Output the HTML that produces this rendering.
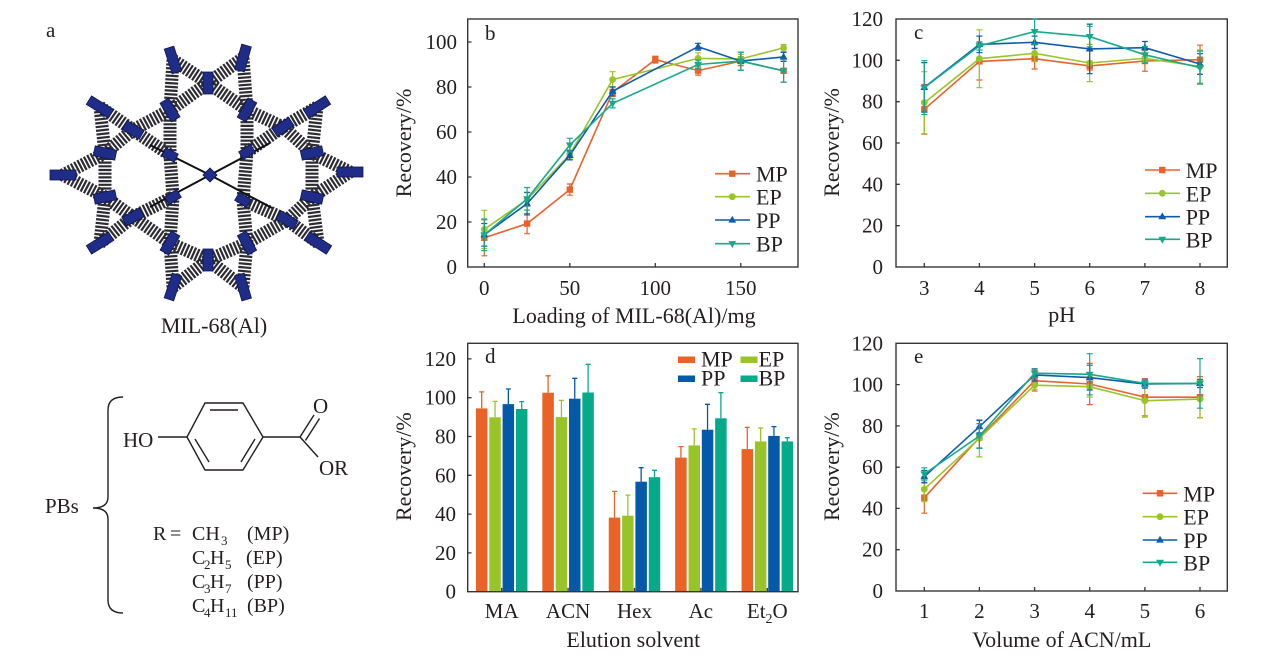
<!DOCTYPE html>
<html>
<head>
<meta charset="utf-8">
<style>
html,body{margin:0;padding:0;background:#fff;}
svg{display:block;}
text{font-family:"Liberation Serif",serif;fill:#231f20;}
</style>
</head>
<body>
<svg width="1269" height="665" viewBox="0 0 1269 665" xmlns="http://www.w3.org/2000/svg">
<defs>
<rect id="ms" x="-3.2" y="-3.2" width="6.4" height="6.4"/>
<circle id="mc" r="3.4"/>
<path id="mu" d="M0,-4.3L3.9,2.6H-3.9Z"/>
<path id="md" d="M0,4.3L3.9,-2.6H-3.9Z"/>
</defs>

<!-- ============ Panel a ============ -->
<text x="46" y="37" font-size="21">a</text>
<g>
<path fill="none" stroke="#15151c" stroke-width="13" stroke-dasharray="2.2 1.5" opacity="0.9"
d="M208,83L247,110M247,110L247,152M170,155L170,110M170,110L208,83
M243,200L247,243M247,243L208,260M208,260L170,243M170,243L173,197
M170,155L173,197M173,197L133,217M133,217L105,197M105,197L105,153M105,153L133,130M133,130L170,155
M247,152L243,200M243,200L287,220M287,220L312,197M312,197L312,153M312,153L283,127M283,127L247,152
M173,60L170,110M173,60L208,83M243,58L208,83M243,58L247,110M170,110L133,130M247,110L283,127
M100,107L133,130M100,107L105,153M63,175L105,153M63,175L105,197M100,243L105,197M100,243L133,217
M173,287L170,243M173,287L208,260M243,287L208,260M243,287L247,243M170,243L133,217M247,243L287,220
M317,107L283,127M317,107L312,153M350,172L312,153M350,172L312,197M318,243L312,197M318,243L287,220"/>
<path fill="none" stroke="#111" stroke-width="2" d="M210,175L150,145M210,175L270,143M210,175L150,207M210,175L272,208"/>
<g fill="#1f2d88" stroke="#0f174e" stroke-width="0.8">
<rect transform="translate(173 60) rotate(-107.8)" x="-13" y="-5" width="26" height="10"/>
<rect transform="translate(243 58) rotate(-74.2)" x="-13" y="-5" width="26" height="10"/>
<rect transform="translate(100 107) rotate(-148.3)" x="-13" y="-5" width="26" height="10"/>
<rect transform="translate(63 175) rotate(180)" x="-13" y="-5" width="26" height="10"/>
<rect transform="translate(100 243) rotate(148.3)" x="-13" y="-5" width="26" height="10"/>
<rect transform="translate(173 287) rotate(108.3)" x="-13" y="-5" width="26" height="10"/>
<rect transform="translate(243 287) rotate(73.6)" x="-13" y="-5" width="26" height="10"/>
<rect transform="translate(317 107) rotate(-32.4)" x="-13" y="-5" width="26" height="10"/>
<rect transform="translate(350 172) rotate(0)" x="-13" y="-5" width="26" height="10"/>
<rect transform="translate(318 243) rotate(32.2)" x="-13" y="-5" width="26" height="10"/>
<rect transform="translate(208 83) rotate(-90)" x="-11" y="-5" width="22" height="10"/>
<rect transform="translate(208 260) rotate(90)" x="-11" y="-5" width="22" height="10"/>
<rect transform="translate(105 153) rotate(-168.2)" x="-11" y="-5" width="22" height="10"/>
<rect transform="translate(105 197) rotate(168.2)" x="-11" y="-5" width="22" height="10"/>
<rect transform="translate(312 153) rotate(-12.2)" x="-11" y="-5" width="22" height="10"/>
<rect transform="translate(312 197) rotate(12.2)" x="-11" y="-5" width="22" height="10"/>
<rect transform="translate(170 110) rotate(-121.6)" x="-11" y="-5" width="22" height="10"/>
<rect transform="translate(247 110) rotate(-60.4)" x="-11" y="-5" width="22" height="10"/>
<rect transform="translate(170 243) rotate(120.5)" x="-11" y="-5" width="22" height="10"/>
<rect transform="translate(247 243) rotate(61.4)" x="-11" y="-5" width="22" height="10"/>
<rect transform="translate(133 130) rotate(-149.7)" x="-10" y="-5" width="20" height="10"/>
<rect transform="translate(283 127) rotate(-33.3)" x="-10" y="-5" width="20" height="10"/>
<rect transform="translate(133 217) rotate(151.4)" x="-10" y="-5" width="20" height="10"/>
<rect transform="translate(287 220) rotate(30.3)" x="-10" y="-5" width="20" height="10"/>
<rect transform="translate(170 155) rotate(-153.4)" x="-7" y="-4.5" width="14" height="9"/>
<rect transform="translate(247 152) rotate(-31.9)" x="-7" y="-4.5" width="14" height="9"/>
<rect transform="translate(173 197) rotate(149.3)" x="-7" y="-4.5" width="14" height="9"/>
<rect transform="translate(243 200) rotate(31.1)" x="-7" y="-4.5" width="14" height="9"/>
<rect transform="translate(210 175) rotate(45)" x="-5" y="-5" width="10" height="10"/>
</g>
</g>
<text x="214" y="333" font-size="22" text-anchor="middle">MIL-68(Al)</text>

<!-- chemical structure -->
<g fill="none" stroke="#231f20" stroke-width="1.4">
<path d="M123,397Q108,397 108,410L108,497Q108,508 93,508Q108,508 108,519L108,600Q108,613 123,613"/>
<path d="M205,403L243,403L263,437L243,470L205,470L187,437Z"/>
<path d="M210,410L238,410M255,439L241,462M195,439L209,462"/>
<path d="M158,437L187,437M263,437L300,437L318,457"/>
<path d="M300,437L314,415M305.5,440.5L319.5,418.5"/>
</g>
<text x="123" y="447" font-size="21">HO</text>
<text x="313" y="413" font-size="21">O</text>
<text x="319" y="475" font-size="21">OR</text>
<text x="45" y="513" font-size="21">PBs</text>
<g font-size="20">
<text x="153" y="540">R</text><text x="170" y="540">=</text><text x="192" y="540">CH</text><text x="221" y="545" font-size="13">3</text><text x="247" y="540">(MP)</text>
<text x="192" y="564">C</text><text x="204" y="569" font-size="13">2</text><text x="210" y="564">H</text><text x="225" y="569" font-size="13">5</text><text x="246" y="564">(EP)</text>
<text x="192" y="588">C</text><text x="204" y="593" font-size="13">3</text><text x="210" y="588">H</text><text x="225" y="593" font-size="13">7</text><text x="247" y="588">(PP)</text>
<text x="192" y="612">C</text><text x="204" y="617" font-size="13">4</text><text x="210" y="612">H</text><text x="225" y="617" font-size="13">11</text><text x="247" y="612">(BP)</text>
</g>

<!-- ============ Panel b ============ -->
<rect x="467.7" y="19" width="330.3" height="248" fill="none" stroke="#3a3535" stroke-width="1.4"/>
<path stroke="#3a3535" stroke-width="1.3" d="M484.3,267V263M569.8,267V263M655.3,267V263M740.8,267V263M467.7,222H471.5M467.7,177H471.5M467.7,132H471.5M467.7,87H471.5M467.7,42H471.5"/>
<g font-size="21" text-anchor="end">
<text x="457" y="274">0</text><text x="457" y="229">20</text><text x="457" y="184">40</text><text x="457" y="139">60</text><text x="457" y="94">80</text><text x="457" y="49">100</text>
</g>
<g font-size="21" text-anchor="middle">
<text x="484.3" y="295">0</text><text x="569.8" y="295">50</text><text x="655.3" y="295">100</text><text x="740.8" y="295">150</text>
</g>
<text x="634" y="323" font-size="22" text-anchor="middle">Loading of MIL-68(Al)/mg</text>
<text transform="translate(411 143) rotate(-90)" font-size="22" text-anchor="middle">Recovery/%</text>
<text x="485" y="40" font-size="21">b</text>
<!-- MP -->
<g stroke="#E8622B" fill="none">
<polyline stroke-width="1.6" points="484.3,237.8 527.1,223.6 569.8,189.6 612.6,92.2 655.3,59.6 698.1,70.6 740.8,61.1 783.6,70.8"/>
<path stroke-width="1.2" d="M484.3,219.8V255.8M481.3,219.8h6M481.3,255.8h6M527.1,213.5V233.7M524.1,213.5h6M524.1,233.7h6M569.8,184V195.2M566.8,184h6M566.8,195.2h6M612.6,87.7V96.7M609.6,87.7h6M609.6,96.7h6M655.3,56.2V63M652.3,56.2h6M652.3,63h6M698.1,66.1V75.1M695.1,66.1h6M695.1,75.1h6M740.8,56.6V65.6M737.8,56.6h6M737.8,65.6h6M783.6,59.5V82.1M780.6,59.5h6M780.6,82.1h6"/>
</g>
<g fill="#E8622B"><use href="#ms" x="484.3" y="237.8"/><use href="#ms" x="527.1" y="223.6"/><use href="#ms" x="569.8" y="189.6"/><use href="#ms" x="612.6" y="92.2"/><use href="#ms" x="655.3" y="59.6"/><use href="#ms" x="698.1" y="70.6"/><use href="#ms" x="740.8" y="61.1"/><use href="#ms" x="783.6" y="70.8"/></g>
<!-- EP -->
<g stroke="#9AC42A" fill="none">
<polyline stroke-width="1.6" points="484.3,229.4 527.1,199.5 569.8,154.5 612.6,79.6 698.1,58.4 740.8,58.9 783.6,47.9"/>
<path stroke-width="1.2" d="M484.3,210.3V248.5M481.3,210.3h6M481.3,248.5h6M527.1,192.7V206.3M524.1,192.7h6M524.1,206.3h6M569.8,150V159M566.8,150h6M566.8,159h6M612.6,71.7V87.5M609.6,71.7h6M609.6,87.5h6M698.1,52.8V64M695.1,52.8h6M695.1,64h6M740.8,54.4V63.4M737.8,54.4h6M737.8,63.4h6M783.6,44.5V51.3M780.6,44.5h6M780.6,51.3h6"/>
</g>
<g fill="#9AC42A"><use href="#mc" x="484.3" y="229.4"/><use href="#mc" x="527.1" y="199.5"/><use href="#mc" x="569.8" y="154.5"/><use href="#mc" x="612.6" y="79.6"/><use href="#mc" x="698.1" y="58.4"/><use href="#mc" x="740.8" y="58.9"/><use href="#mc" x="783.6" y="47.9"/></g>
<!-- PP -->
<g stroke="#0F5CAB" fill="none">
<polyline stroke-width="1.6" points="484.3,234.8 527.1,203.6 569.8,155.4 612.6,91.3 698.1,46.7 740.8,61.1 783.6,56.9"/>
<path stroke-width="1.2" d="M484.3,223.5V246.1M481.3,223.5h6M481.3,246.1h6M527.1,192.3V214.9M524.1,192.3h6M524.1,214.9h6M569.8,150.9V159.9M566.8,150.9h6M566.8,159.9h6M612.6,86.8V95.8M609.6,86.8h6M609.6,95.8h6M698.1,43.3V50.1M695.1,43.3h6M695.1,50.1h6M740.8,52.1V70.1M737.8,52.1h6M737.8,70.1h6M783.6,52.4V61.4M780.6,52.4h6M780.6,61.4h6"/>
</g>
<g fill="#0F5CAB"><use href="#mu" x="484.3" y="234.8"/><use href="#mu" x="527.1" y="203.6"/><use href="#mu" x="569.8" y="155.4"/><use href="#mu" x="612.6" y="91.3"/><use href="#mu" x="698.1" y="46.7"/><use href="#mu" x="740.8" y="61.1"/><use href="#mu" x="783.6" y="56.9"/></g>
<!-- BP -->
<g stroke="#16A98B" fill="none">
<polyline stroke-width="1.6" points="484.3,234.8 527.1,198.8 569.8,145.1 612.6,103.4 698.1,64.5 740.8,61.1 783.6,70.8"/>
<path stroke-width="1.2" d="M484.3,219V250.6M481.3,219h6M481.3,250.6h6M527.1,187.5V210.1M524.1,187.5h6M524.1,210.1h6M569.8,138.3V151.9M566.8,138.3h6M566.8,151.9h6M612.6,98.9V107.9M609.6,98.9h6M609.6,107.9h6M698.1,60V69M695.1,60h6M695.1,69h6M740.8,52.1V70.1M737.8,52.1h6M737.8,70.1h6M783.6,59.5V82.1M780.6,59.5h6M780.6,82.1h6"/>
</g>
<g fill="#16A98B"><use href="#md" x="484.3" y="234.8"/><use href="#md" x="527.1" y="198.8"/><use href="#md" x="569.8" y="145.1"/><use href="#md" x="612.6" y="103.4"/><use href="#md" x="698.1" y="64.5"/><use href="#md" x="740.8" y="61.1"/><use href="#md" x="783.6" y="70.8"/></g>
<!-- legend b -->
<g stroke-width="1.6">
<line x1="715" y1="173.7" x2="750" y2="173.7" stroke="#E8622B"/>
<line x1="715" y1="196.7" x2="750" y2="196.7" stroke="#9AC42A"/>
<line x1="715" y1="220" x2="750" y2="220" stroke="#0F5CAB"/>
<line x1="715" y1="243.7" x2="750" y2="243.7" stroke="#16A98B"/>
</g>
<use href="#ms" x="732.3" y="173.7" fill="#E8622B"/><use href="#mc" x="732.3" y="196.7" fill="#9AC42A"/><use href="#mu" x="732.3" y="220" fill="#0F5CAB"/><use href="#md" x="732.3" y="243.7" fill="#16A98B"/>
<g font-size="22"><text x="756" y="181.7">MP</text><text x="756" y="204.7">EP</text><text x="756" y="228">PP</text><text x="756" y="251.7">BP</text></g>

<!-- ============ Panel c ============ -->
<rect x="896" y="19" width="331.3" height="248" fill="none" stroke="#3a3535" stroke-width="1.4"/>
<path stroke="#3a3535" stroke-width="1.3" d="M924.3,267V263M979.4,267V263M1034.6,267V263M1089.7,267V263M1144.9,267V263M1200,267V263M896,225.7H899.8M896,184.3H899.8M896,143H899.8M896,101.7H899.8M896,60.3H899.8"/>
<g font-size="21" text-anchor="end">
<text x="883" y="274">0</text><text x="883" y="232.7">20</text><text x="883" y="191.3">40</text><text x="883" y="150">60</text><text x="883" y="108.7">80</text><text x="883" y="67.3">100</text><text x="883" y="26">120</text>
</g>
<g font-size="21" text-anchor="middle">
<text x="924.3" y="295">3</text><text x="979.4" y="295">4</text><text x="1034.6" y="295">5</text><text x="1089.7" y="295">6</text><text x="1144.9" y="295">7</text><text x="1200" y="295">8</text>
</g>
<text x="1061.7" y="322" font-size="22" text-anchor="middle">pH</text>
<text transform="translate(839 142.5) rotate(-90)" font-size="22" text-anchor="middle">Recovery/%</text>
<text x="914" y="39" font-size="21">c</text>
<g stroke="#E8622B" fill="none">
<polyline stroke-width="1.6" points="924.3,109.3 979.4,61.4 1034.6,58.7 1089.7,65.9 1144.9,61 1200,59.7"/>
<path stroke-width="1.2" d="M924.3,84.5V134.1M921.3,84.5h6M921.3,134.1h6M979.4,42.8V80M976.4,42.8h6M976.4,80h6M1034.6,48.4V69M1031.6,48.4h6M1031.6,69h6M1089.7,61.8V70M1086.7,61.8h6M1086.7,70h6M1144.9,50.7V71.3M1141.9,50.7h6M1141.9,71.3h6M1200,45.2V74.2M1197,45.2h6M1197,74.2h6"/>
</g>
<g fill="#E8622B"><use href="#ms" x="924.3" y="109.3"/><use href="#ms" x="979.4" y="61.4"/><use href="#ms" x="1034.6" y="58.7"/><use href="#ms" x="1089.7" y="65.9"/><use href="#ms" x="1144.9" y="61"/><use href="#ms" x="1200" y="59.7"/></g>
<g stroke="#9AC42A" fill="none">
<polyline stroke-width="1.6" points="924.3,102.7 979.4,58.7 1034.6,53.3 1089.7,63 1144.9,58.3 1200,66.5"/>
<path stroke-width="1.2" d="M924.3,71.7V133.7M921.3,71.7h6M921.3,133.7h6M979.4,29.8V87.6M976.4,29.8h6M976.4,87.6h6M1034.6,45V61.6M1031.6,45h6M1031.6,61.6h6M1089.7,44.4V81.6M1086.7,44.4h6M1086.7,81.6h6M1144.9,54.2V62.4M1141.9,54.2h6M1141.9,62.4h6M1200,50V83M1197,50h6M1197,83h6"/>
</g>
<g fill="#9AC42A"><use href="#mc" x="924.3" y="102.7"/><use href="#mc" x="979.4" y="58.7"/><use href="#mc" x="1034.6" y="53.3"/><use href="#mc" x="1089.7" y="63"/><use href="#mc" x="1144.9" y="58.3"/><use href="#mc" x="1200" y="66.5"/></g>
<g stroke="#0F5CAB" fill="none">
<polyline stroke-width="1.6" points="924.3,87.4 979.4,44.4 1034.6,42.3 1089.7,48.9 1144.9,47.7 1200,64"/>
<path stroke-width="1.2" d="M924.3,62.6V112.2M921.3,62.6h6M921.3,112.2h6M979.4,36.1V52.7M976.4,36.1h6M976.4,52.7h6M1034.6,36.1V48.5M1031.6,36.1h6M1031.6,48.5h6M1089.7,24.1V73.7M1086.7,24.1h6M1086.7,73.7h6M1144.9,41.5V53.9M1141.9,41.5h6M1141.9,53.9h6M1200,53.7V74.3M1197,53.7h6M1197,74.3h6"/>
</g>
<g fill="#0F5CAB"><use href="#mu" x="924.3" y="87.4"/><use href="#mu" x="979.4" y="44.4"/><use href="#mu" x="1034.6" y="42.3"/><use href="#mu" x="1089.7" y="48.9"/><use href="#mu" x="1144.9" y="47.7"/><use href="#mu" x="1200" y="64"/></g>
<g stroke="#16A98B" fill="none">
<polyline stroke-width="1.6" points="924.3,87.6 979.4,45.9 1034.6,31.6 1089.7,36.6 1144.9,54.8 1200,67.6"/>
<path stroke-width="1.2" d="M924.3,60.7V114.5M921.3,60.7h6M921.3,114.5h6M979.4,41.8V50M976.4,41.8h6M976.4,50h6M1034.6,19.2V44M1031.6,19.2h6M1031.6,44h6M1089.7,26.3V46.9M1086.7,26.3h6M1086.7,46.9h6M1144.9,46.5V63.1M1141.9,46.5h6M1141.9,63.1h6M1200,51.1V84.1M1197,51.1h6M1197,84.1h6"/>
</g>
<g fill="#16A98B"><use href="#md" x="924.3" y="87.6"/><use href="#md" x="979.4" y="45.9"/><use href="#md" x="1034.6" y="31.6"/><use href="#md" x="1089.7" y="36.6"/><use href="#md" x="1144.9" y="54.8"/><use href="#md" x="1200" y="67.6"/></g>
<g stroke-width="1.6">
<line x1="1145" y1="170" x2="1180" y2="170" stroke="#E8622B"/>
<line x1="1145" y1="193.3" x2="1180" y2="193.3" stroke="#9AC42A"/>
<line x1="1145" y1="216.7" x2="1180" y2="216.7" stroke="#0F5CAB"/>
<line x1="1145" y1="239.3" x2="1180" y2="239.3" stroke="#16A98B"/>
</g>
<use href="#ms" x="1162.3" y="170" fill="#E8622B"/><use href="#mc" x="1162.3" y="193.3" fill="#9AC42A"/><use href="#mu" x="1162.3" y="216.7" fill="#0F5CAB"/><use href="#md" x="1162.3" y="239.3" fill="#16A98B"/>
<g font-size="22"><text x="1185.7" y="178">MP</text><text x="1185.7" y="201.3">EP</text><text x="1185.7" y="224.7">PP</text><text x="1185.7" y="247.3">BP</text></g>

<!-- ============ Panel d ============ -->
<g fill="#EA6226">
<rect x="475.95" y="408.4" width="11.5" height="183.3"/><rect x="542.35" y="392.7" width="11.5" height="199"/><rect x="608.75" y="517.6" width="11.5" height="74.1"/><rect x="675.15" y="457.6" width="11.5" height="134.1"/><rect x="741.55" y="449.1" width="11.5" height="142.6"/>
</g>
<g fill="#98C428">
<rect x="489.3" y="417.3" width="11.5" height="174.4"/><rect x="555.7" y="417.1" width="11.5" height="174.6"/><rect x="622.1" y="515.7" width="11.5" height="76"/><rect x="688.5" y="445.4" width="11.5" height="146.3"/><rect x="754.9" y="441.4" width="11.5" height="150.3"/>
</g>
<g fill="#0559A9">
<rect x="502.6" y="404.1" width="11.5" height="187.6"/><rect x="569" y="398.7" width="11.5" height="193"/><rect x="635.4" y="481.7" width="11.5" height="110"/><rect x="701.8" y="429.7" width="11.5" height="162"/><rect x="768.2" y="435.9" width="11.5" height="155.8"/>
</g>
<g fill="#05AB89">
<rect x="515.95" y="409" width="11.5" height="182.7"/><rect x="582.35" y="392.5" width="11.5" height="199.2"/><rect x="648.75" y="477.2" width="11.5" height="114.5"/><rect x="715.15" y="418.3" width="11.5" height="173.4"/><rect x="781.55" y="441.4" width="11.5" height="150.3"/>
</g>
<g stroke-width="1.3" fill="none">
<path stroke="#EA6226" d="M481.7,408.4V391.9M479.2,391.9h5M548.1,392.7V375.8M545.6,375.8h5M614.5,517.6V491.4M612,491.4h5M680.9,457.6V446.6M678.4,446.6h5M747.3,449.1V427.4M744.8,427.4h5"/>
<path stroke="#98C428" d="M495.05,417.3V401.4M492.55,401.4h5M561.45,417.1V400.4M558.95,400.4h5M627.85,515.7V495.1M625.35,495.1h5M694.25,445.4V428.9M691.75,428.9h5M760.65,441.4V428M758.15,428h5"/>
<path stroke="#0559A9" d="M508.35,404.1V389M505.85,389h5M574.75,398.7V378.3M572.25,378.3h5M641.15,481.7V467.7M638.65,467.7h5M707.55,429.7V404.3M705.05,404.3h5M773.95,435.9V426.6M771.45,426.6h5"/>
<path stroke="#05AB89" d="M521.7,409V401.6M519.2,401.6h5M588.1,392.5V364.3M585.6,364.3h5M654.5,477.2V470.3M652,470.3h5M720.9,418.3V392.7M718.4,392.7h5M787.3,441.4V437.7M784.8,437.7h5"/>
</g>
<rect x="467.7" y="343.3" width="330.3" height="248.4" fill="none" stroke="#3a3535" stroke-width="1.4"/>
<path stroke="#3a3535" stroke-width="1.3" d="M501.7,591.7V587.9M568.1,591.7V587.9M634.5,591.7V587.9M700.9,591.7V587.9M767.3,591.7V587.9M467.7,552.9H471.5M467.7,514.1H471.5M467.7,475.3H471.5M467.7,436.5H471.5M467.7,397.7H471.5M467.7,358.9H471.5"/>
<g font-size="21" text-anchor="end">
<text x="456" y="598.7">0</text><text x="456" y="559.9">20</text><text x="456" y="521.1">40</text><text x="456" y="482.3">60</text><text x="456" y="443.5">80</text><text x="456" y="404.7">100</text><text x="456" y="365.9">120</text>
</g>
<g font-size="21" text-anchor="middle">
<text x="501.7" y="618">MA</text><text x="568.1" y="618">ACN</text><text x="634.5" y="618">Hex</text><text x="700.9" y="618">Ac</text><text x="767.3" y="618">Et<tspan font-size="14" dy="5">2</tspan><tspan dy="-5">O</tspan></text>
</g>
<text x="633.3" y="647" font-size="22" text-anchor="middle">Elution solvent</text>
<text transform="translate(411 466.7) rotate(-90)" font-size="22" text-anchor="middle">Recovery/%</text>
<text x="485" y="363" font-size="21">d</text>
<rect x="678" y="356.5" width="17" height="6.5" fill="#EA6226"/>
<rect x="740.5" y="356.5" width="17" height="6.5" fill="#98C428"/>
<rect x="678" y="375.5" width="17" height="6.5" fill="#0559A9"/>
<rect x="740.5" y="375.5" width="17" height="6.5" fill="#05AB89"/>
<g font-size="22"><text x="701" y="366.5">MP</text><text x="758.5" y="366.5">EP</text><text x="701" y="385.5">PP</text><text x="758.5" y="385.5">BP</text></g>

<!-- ============ Panel e ============ -->
<rect x="896" y="343.3" width="331.3" height="247.7" fill="none" stroke="#3a3535" stroke-width="1.4"/>
<path stroke="#3a3535" stroke-width="1.3" d="M924.3,591V587M979.4,591V587M1034.6,591V587M1089.7,591V587M1144.9,591V587M1200,591V587M896,549.7H899.8M896,508.4H899.8M896,467.2H899.8M896,425.9H899.8M896,384.6H899.8"/>
<g font-size="21" text-anchor="end">
<text x="883" y="598">0</text><text x="883" y="556.7">20</text><text x="883" y="515.4">40</text><text x="883" y="474.2">60</text><text x="883" y="432.9">80</text><text x="883" y="391.6">100</text><text x="883" y="350.3">120</text>
</g>
<g font-size="21" text-anchor="middle">
<text x="924.3" y="618">1</text><text x="979.4" y="618">2</text><text x="1034.6" y="618">3</text><text x="1089.7" y="618">4</text><text x="1144.9" y="618">5</text><text x="1200" y="618">6</text>
</g>
<text x="1061.7" y="647" font-size="22" text-anchor="middle">Volume of ACN/mL</text>
<text transform="translate(839 466.7) rotate(-90)" font-size="22" text-anchor="middle">Recovery/%</text>
<text x="914" y="363" font-size="21">e</text>
<g stroke="#E8622B" fill="none">
<polyline stroke-width="1.6" points="924.3,497.7 979.4,437.6 1034.6,380.7 1089.7,384 1144.9,397.2 1200,397.2"/>
<path stroke-width="1.2" d="M924.3,482.2V513.2M921.3,482.2h6M921.3,513.2h6M979.4,427.3V447.9M976.4,427.3h6M976.4,447.9h6M1034.6,370.4V391M1031.6,370.4h6M1031.6,391h6M1089.7,363.4V404.6M1086.7,363.4h6M1086.7,404.6h6M1144.9,378.6V415.8M1141.9,378.6h6M1141.9,415.8h6M1200,376.6V417.8M1197,376.6h6M1197,417.8h6"/>
</g>
<g fill="#E8622B"><use href="#ms" x="924.3" y="497.7"/><use href="#ms" x="979.4" y="437.6"/><use href="#ms" x="1034.6" y="380.7"/><use href="#ms" x="1089.7" y="384"/><use href="#ms" x="1144.9" y="397.2"/><use href="#ms" x="1200" y="397.2"/></g>
<g stroke="#9AC42A" fill="none">
<polyline stroke-width="1.6" points="924.3,489.2 979.4,438.3 1034.6,385.2 1089.7,386.7 1144.9,400.7 1200,399.1"/>
<path stroke-width="1.2" d="M924.3,476.8V501.6M921.3,476.8h6M921.3,501.6h6M979.4,419.7V456.9M976.4,419.7h6M976.4,456.9h6M1034.6,381.1V389.3M1031.6,381.1h6M1031.6,389.3h6M1089.7,376.4V397M1086.7,376.4h6M1086.7,397h6M1144.9,384.2V417.2M1141.9,384.2h6M1141.9,417.2h6M1200,380.5V417.7M1197,380.5h6M1197,417.7h6"/>
</g>
<g fill="#9AC42A"><use href="#mc" x="924.3" y="489.2"/><use href="#mc" x="979.4" y="438.3"/><use href="#mc" x="1034.6" y="385.2"/><use href="#mc" x="1089.7" y="386.7"/><use href="#mc" x="1144.9" y="400.7"/><use href="#mc" x="1200" y="399.1"/></g>
<g stroke="#0F5CAB" fill="none">
<polyline stroke-width="1.6" points="924.3,476.7 979.4,426.7 1034.6,374.9 1089.7,377.6 1144.9,384 1200,383.4"/>
<path stroke-width="1.2" d="M924.3,470.5V482.9M921.3,470.5h6M921.3,482.9h6M979.4,420.5V432.9M976.4,420.5h6M976.4,432.9h6M1034.6,368.7V381.1M1031.6,368.7h6M1031.6,381.1h6M1089.7,365.2V390M1086.7,365.2h6M1086.7,390h6M1144.9,379.9V388.1M1141.9,379.9h6M1141.9,388.1h6M1200,379.3V387.5M1197,379.3h6M1197,387.5h6"/>
</g>
<g fill="#0F5CAB"><use href="#mu" x="924.3" y="476.7"/><use href="#mu" x="979.4" y="426.7"/><use href="#mu" x="1034.6" y="374.9"/><use href="#mu" x="1089.7" y="377.6"/><use href="#mu" x="1144.9" y="384"/><use href="#mu" x="1200" y="383.4"/></g>
<g stroke="#16A98B" fill="none">
<polyline stroke-width="1.6" points="924.3,474 979.4,436 1034.6,373.2 1089.7,374.3 1144.9,383.4 1200,383.4"/>
<path stroke-width="1.2" d="M924.3,467.8V480.2M921.3,467.8h6M921.3,480.2h6M979.4,423.6V448.4M976.4,423.6h6M976.4,448.4h6M1034.6,369.1V377.3M1031.6,369.1h6M1031.6,377.3h6M1089.7,353.7V394.9M1086.7,353.7h6M1086.7,394.9h6M1144.9,379.3V387.5M1141.9,379.3h6M1141.9,387.5h6M1200,358.6V408.2M1197,358.6h6M1197,408.2h6"/>
</g>
<g fill="#16A98B"><use href="#md" x="924.3" y="474"/><use href="#md" x="979.4" y="436"/><use href="#md" x="1034.6" y="373.2"/><use href="#md" x="1089.7" y="374.3"/><use href="#md" x="1144.9" y="383.4"/><use href="#md" x="1200" y="383.4"/></g>
<g stroke-width="1.6">
<line x1="1142.7" y1="493.3" x2="1177.3" y2="493.3" stroke="#E8622B"/>
<line x1="1142.7" y1="516.7" x2="1177.3" y2="516.7" stroke="#9AC42A"/>
<line x1="1142.7" y1="540" x2="1177.3" y2="540" stroke="#0F5CAB"/>
<line x1="1142.7" y1="562.3" x2="1177.3" y2="562.3" stroke="#16A98B"/>
</g>
<use href="#ms" x="1160" y="493.3" fill="#E8622B"/><use href="#mc" x="1160" y="516.7" fill="#9AC42A"/><use href="#mu" x="1160" y="540" fill="#0F5CAB"/><use href="#md" x="1160" y="562.3" fill="#16A98B"/>
<g font-size="22"><text x="1183.3" y="501.3">MP</text><text x="1183.3" y="524.7">EP</text><text x="1183.3" y="548">PP</text><text x="1183.3" y="570.3">BP</text></g>
</svg>
</body>
</html>
